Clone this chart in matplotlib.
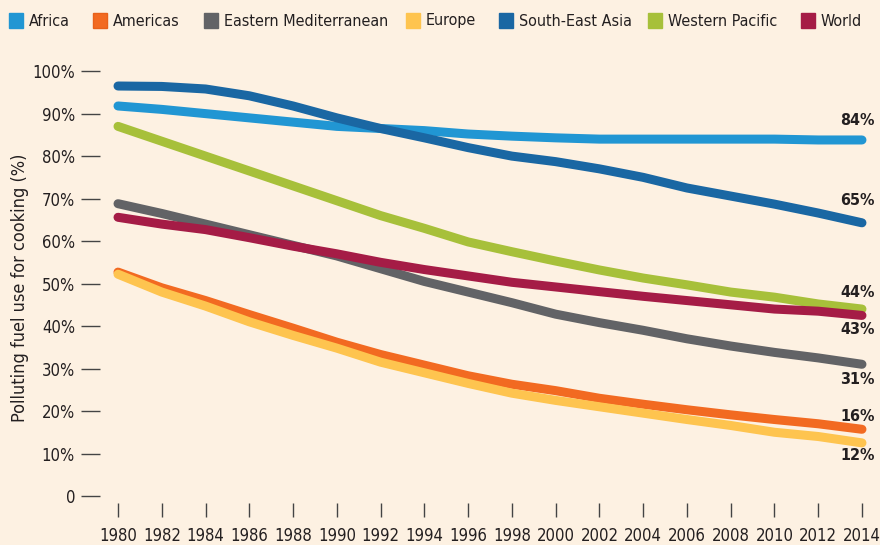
import matplotlib
matplotlib.use("Agg")
import matplotlib.pyplot as plt
from matplotlib.patches import Rectangle
from matplotlib import font_manager

# look for a narrow face; fall back to Roboto
narrow = [f for f in font_manager.fontManager.ttflist
          if "Narrow" in f.name or "Condensed" in f.name
          or str(f.stretch) in ("condensed", "semi-condensed", "extra-condensed")]
if narrow:
    base_font = narrow[0].name
    plt.rcParams['font.stretch'] = narrow[0].stretch
    size_scale = 1.0
else:
    base_font = "Roboto"
    size_scale = 0.85
plt.rcParams['font.family'] = [base_font, 'DejaVu Sans']

years = list(range(1980, 2015, 2))

africa = [91.8, 91.0, 90.0, 89.0, 88.0, 87.0, 86.5, 86.0, 85.2, 84.7, 84.3, 84.0, 84.0, 84.0, 84.0, 84.0, 83.8, 83.8]
americas = [52.7, 49.0, 46.0, 42.7, 39.5, 36.2, 33.3, 30.8, 28.3, 26.3, 24.8, 23.0, 21.6, 20.3, 19.1, 18.0, 17.0, 15.7]
east_med = [68.8, 66.5, 64.0, 61.5, 59.0, 56.5, 53.5, 50.5, 48.0, 45.5, 42.8, 40.8, 39.0, 37.0, 35.3, 33.8, 32.5, 31.0]
europe = [52.2, 48.0, 44.7, 41.0, 37.8, 34.8, 31.5, 29.0, 26.5, 24.2, 22.5, 21.0, 19.5, 18.0, 16.6, 15.0, 14.0, 12.5]
se_asia = [96.5, 96.4, 95.8, 94.2, 91.8, 89.0, 86.5, 84.3, 82.0, 80.0, 78.7, 77.0, 75.0, 72.5, 70.6, 68.7, 66.6, 64.3]
west_pac = [87.0, 83.5, 80.0, 76.5, 73.0, 69.5, 66.0, 63.0, 59.8, 57.5, 55.3, 53.2, 51.3, 49.7, 48.0, 46.8, 45.2, 44.0]
world = [65.6, 64.0, 62.7, 60.8, 58.8, 57.0, 55.0, 53.3, 51.8, 50.3, 49.2, 48.1, 47.0, 46.0, 45.0, 44.0, 43.5, 42.5]

region_names = ["Africa", "Americas", "Eastern Mediterranean", "Europe",
                "South-East Asia", "Western Pacific", "World"]
region_values = [africa, americas, east_med, europe, se_asia, west_pac, world]
region_colors = ["#2196d3", "#f26a21", "#626366", "#fec44f", "#1a67a3", "#a7c03a", "#a51c46"]

# end-of-line labels: text and vertical offset in points
end_labels = ["84%", "16%", "31%", "12%", "65%", "44%", "43%"]
end_offsets = [14, 9, -11, -9, 16, 12, -10]

bg = "#fdf1e2"
ink = "#231f20"

fig = plt.figure(figsize=(8.8, 5.45), dpi=100, facecolor=bg)
ax = fig.add_axes([100 / 880, 42 / 545, 770 / 880, 448 / 545])
ax.set_facecolor(bg)

draw_order = [3, 1, 2, 0, 4, 5, 6]
for i in draw_order:
    ax.plot(years, region_values[i], color=region_colors[i], lw=6.5,
            solid_capstyle='round', solid_joinstyle='round', zorder=3 + i * 0.1)

for i in range(len(region_names)):
    ax.annotate(end_labels[i], (years[-1], region_values[i][-1]),
                xytext=(-3, end_offsets[i]), textcoords='offset points',
                ha='center', va='center', fontsize=11.5 * size_scale,
                fontweight='bold', color=ink)

ax.set_xlim(1980 - 0.823, 1980 - 0.823 + 35.19)
ax.set_ylim(-1.65, 103.8)

ax.set_yticks(range(0, 101, 10))
ax.set_yticklabels(["0"] + [f"{v}%" for v in range(10, 101, 10)])
ax.set_xticks(years)
ax.set_xticklabels([str(y) for y in years])
ax.tick_params(axis='y', length=14, width=1, color="#444444", pad=4,
               labelsize=12 * size_scale, labelcolor=ink)
ax.tick_params(axis='x', length=10, width=1, color="#444444", pad=7,
               labelsize=12 * size_scale, labelcolor=ink)
for s in ax.spines.values():
    s.set_visible(False)

ax.set_ylabel("Polluting fuel use for cooking (%)", fontsize=13 * size_scale, color=ink)
ax.yaxis.set_label_coords(-0.092, 0.48)

# legend row along the top
legend_x = [9, 93, 204, 406, 499, 648, 801]
for i, name in enumerate(region_names):
    x0 = legend_x[i] / 880
    edge = "#e8611a" if name == "Americas" else region_colors[i]
    fig.patches.append(Rectangle((x0, (545 - 28) / 545), 14 / 880, 15 / 545,
                                 transform=fig.transFigure, facecolor=region_colors[i],
                                 edgecolor=edge, lw=1))
    fig.text(x0 + 20 / 880, (545 - 21) / 545, name, ha='left', va='center',
             fontsize=11.5 * size_scale, color=ink)

fig.savefig("out.png", dpi=100, facecolor=bg)
